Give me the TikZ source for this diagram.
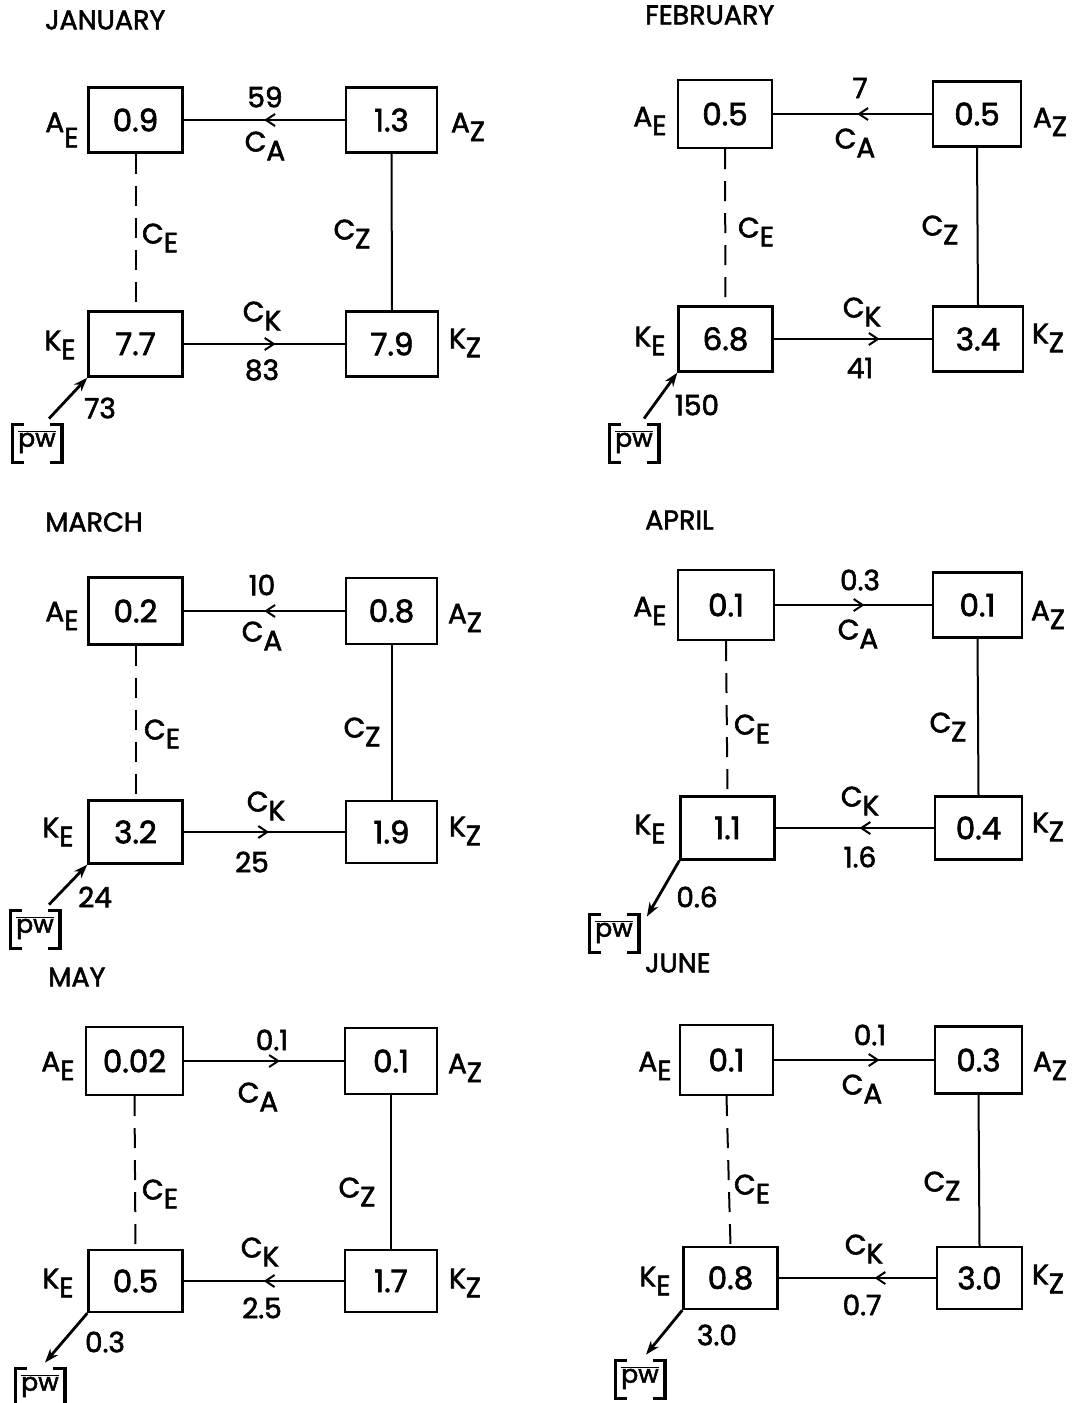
\documentclass[tikz,border=0pt]{standalone}
\usepackage{fontspec}
\setmainfont{Poppins}[FakeBold=2]
\usetikzlibrary{arrows.meta,decorations.markings,calc}
\newcommand\lbsub[2]{#1\raisebox{-0.32em}{#2}}
\newcommand\lbsubb[2]{#1\raisebox{-0.55em}{#2}}
\newcommand\pwtext{$\overline{\hbox{\fontsize{25}{27}\selectfont pw}}$}
\newcommand\pwbrackets[1]{%
  \draw[brk] ($(#1.north west)+(6,-6)$) -- ++(-12,0) |- ($(#1.south west)+(6,9)$);
  \draw[brk] ($(#1.north east)+(-6,-6)$) -- ++(12,0) |- ($(#1.south east)+(-6,9)$);}
\tikzset{
 box/.style={draw,line width=2.4pt,minimum width=94pt,minimum height=65pt,inner sep=0pt,font=\fontsize{31}{33}\selectfont},
 lbl/.style={inner sep=0pt,font=\fontsize{28}{30}\selectfont},
 ttl/.style={anchor=west,inner sep=0pt,font=\fontsize{27}{29}\selectfont},
 pwnode/.style={inner sep=0pt,font=\fontsize{25}{27}\selectfont},
 brk/.style={line width=3.2pt},
 link/.style={line width=2pt},
 dlink/.style={line width=2pt,dash pattern=on 20pt off 12pt},
 marr/.style={decoration={markings,mark=at position #1 with {\arrow{Straight Barb[length=9pt,width=12pt,line width=2pt]}}},postaction={decorate}},
 pwarr/.style={line width=2.8pt,-{Stealth[length=14pt,width=10pt]}},
}
\begin{document}
\begin{tikzpicture}[x=1pt,y=-1pt]
\useasboundingbox (0,0) rectangle (1078,1403);
% ================= JANUARY =================
\node[ttl] (t1) at (45,20) {JANUARY};
\node[box] (ae1) at (135.5,120) {0.9};
\node[box,minimum width=91pt] (az1) at (391.5,120) {1.3};
\node[box] (ke1) at (135.5,344) {7.7};
\node[box,minimum width=92pt] (kz1) at (392,344) {7.9};
\node[lbl] (lae1) at (62,130) {\lbsubb{A}{E}};
\node[lbl] (laz1) at (468,127) {\lbsub{A}{Z}};
\node[lbl] (lke1) at (60,345) {\lbsub{K}{E}};
\node[lbl] (lkz1) at (465,343) {\lbsub{K}{Z}};
\draw[link,marr=0.5] (az1.west) -- (ae1.east);
\node[lbl] (ca1v) at (265,97) {59};
\node[lbl] (ca1) at (265,146) {\lbsub{C}{A}};
\draw[dlink] (ae1.south) -- (ke1.north);
\node[lbl] (ce1) at (160,238) {\lbsub{C}{E}};
\draw[link] (az1.south) -- (kz1.north);
\node[lbl] (cz1) at (352,234) {\lbsub{C}{Z}};
\draw[link,marr=0.57] (ke1.east) -- (kz1.west);
\node[lbl] (ck1) at (262,316) {\lbsub{C}{K}};
\node[lbl] (ck1v) at (262,370) {83};
\node[pwnode] (pw1) at (37,442) {\pwtext};
\pwbrackets{pw1}
\coordinate (pw1t) at ($(pw1.north)+(12,-12)$);
\draw[pwarr] (pw1t) -- (ke1.south west);
\node[lbl] (pw1v) at (100,408) {73};
% ================= FEBRUARY =================
\node[ttl] (t2) at (645,15) {FEBRUARY};
\node[box,minimum height=68pt] (ae2) at (725,114) {0.5};
\node[box,minimum width=88pt] (az2) at (977,114) {0.5};
\node[box] (ke2) at (725.5,339) {6.8};
\node[box,minimum width=90pt] (kz2) at (978,339) {3.4};
\node[lbl] (lae2) at (650,121) {\lbsub{A}{E}};
\node[lbl] (laz2) at (1050,122) {\lbsub{A}{Z}};
\node[lbl] (lke2) at (650,341) {\lbsub{K}{E}};
\node[lbl] (lkz2) at (1048,338) {\lbsub{K}{Z}};
\draw[link,marr=0.47] (az2.west) -- (ae2.east);
\node[lbl] (ca2v) at (860,88) {7};
\node[lbl] (ca2) at (855,143) {\lbsub{C}{A}};
\draw[dlink] (ae2.south) -- (ke2.north);
\node[lbl] (ce2) at (756,232) {\lbsub{C}{E}};
\draw[link] (az2.south) -- (kz2.north);
\node[lbl] (cz2) at (940,230) {\lbsub{C}{Z}};
\draw[link,marr=0.67] (ke2.east) -- (kz2.west);
\node[lbl] (ck2) at (862,312) {\lbsub{C}{K}};
\node[lbl] (ck2v) at (860,368) {41};
\node[pwnode] (pw2) at (634,442) {\pwtext};
\pwbrackets{pw2}
\coordinate (pw2t) at ($(pw2.north)+(10,-12)$);
\draw[pwarr] (pw2t) -- (ke2.south west);
\node[lbl] (pw2v) at (697,405) {150};
% ================= MARCH =================
\node[ttl] (t3) at (45,522) {MARCH};
\node[box,minimum height=67pt] (ae3) at (135.5,611) {0.2};
\node[box,minimum width=91pt,minimum height=66pt] (az3) at (391.5,611) {0.8};
\node[box,minimum height=63pt] (ke3) at (135.5,832) {3.2};
\node[box,minimum width=91pt,minimum height=62pt] (kz3) at (391.5,832) {1.9};
\node[lbl] (lae3) at (62,616) {\lbsub{A}{E}};
\node[lbl] (laz3) at (465,618) {\lbsub{A}{Z}};
\node[lbl] (lke3) at (58,832) {\lbsub{K}{E}};
\node[lbl] (lkz3) at (465,831) {\lbsub{K}{Z}};
\draw[link,marr=0.5] (az3.west) -- (ae3.east);
\node[lbl] (ca3v) at (262,585) {10};
\node[lbl] (ca3) at (262,636) {\lbsub{C}{A}};
\draw[dlink] (ae3.south) -- (ke3.north);
\node[lbl] (ce3) at (162,734) {\lbsub{C}{E}};
\draw[link] (az3.south) -- (kz3.north);
\node[lbl] (cz3) at (362,732) {\lbsub{C}{Z}};
\draw[link,marr=0.53] (ke3.east) -- (kz3.west);
\node[lbl] (ck3) at (266,806) {\lbsub{C}{K}};
\node[lbl] (ck3v) at (252,862) {25};
\node[pwnode] (pw3) at (35,928) {\pwtext};
\pwbrackets{pw3}
\coordinate (pw3t) at ($(pw3.north)+(14,-12)$);
\draw[pwarr] (pw3t) -- (ke3.south west);
\node[lbl] (pw3v) at (95,897) {24};
% ================= APRIL =================
\node[ttl] (t4) at (645,520) {APRIL};
\node[box,minimum width=96pt,minimum height=70pt] (ae4) at (726,605) {0.1};
\node[box,minimum width=89pt] (az4) at (977.5,605) {0.1};
\node[box,minimum height=63pt] (ke4) at (727.5,828) {1.1};
\node[box,minimum width=87pt,minimum height=63pt] (kz4) at (978.5,828) {0.4};
\node[lbl] (lae4) at (650,611) {\lbsub{A}{E}};
\node[lbl] (laz4) at (1048,615) {\lbsub{A}{Z}};
\node[lbl] (lke4) at (650,829) {\lbsub{K}{E}};
\node[lbl] (lkz4) at (1048,827) {\lbsub{K}{Z}};
\draw[link,marr=0.57] (ae4.east) -- (az4.west);
\node[lbl] (ca4v) at (860,580) {0.3};
\node[lbl] (ca4) at (858,634) {\lbsub{C}{A}};
\draw[dlink] (ae4.south) -- (ke4.north);
\node[lbl] (ce4) at (752,729) {\lbsub{C}{E}};
\draw[link] (az4.south) -- (kz4.north);
\node[lbl] (cz4) at (948,727) {\lbsub{C}{Z}};
\draw[link,marr=0.47] (kz4.west) -- (ke4.east);
\node[lbl] (ck4) at (860,801) {\lbsub{C}{K}};
\node[lbl] (ck4v) at (860,857) {1.6};
\node[pwnode] (pw4) at (614,932) {\pwtext};
\pwbrackets{pw4}
\coordinate (pw4t) at ($(pw4.north east)+(14,-4)$);
\draw[pwarr] (ke4.south west) -- (pw4t);
\node[lbl] (pw4v) at (697,897) {0.6};
% ================= MAY =================
\node[ttl] (t5) at (48,977) {MAY};
\node[box,minimum width=97pt,minimum height=68pt] (ae5) at (134.5,1061) {0.02};
\node[box,minimum width=92pt,minimum height=66pt] (az5) at (391,1061) {0.1};
\node[box,minimum height=62pt] (ke5) at (135.5,1281) {0.5};
\node[box,minimum width=92pt,minimum height=62pt] (kz5) at (391,1281) {1.7};
\node[lbl] (lae5) at (58,1066) {\lbsub{A}{E}};
\node[lbl] (laz5) at (465,1068) {\lbsub{A}{Z}};
\node[lbl] (lke5) at (58,1283) {\lbsub{K}{E}};
\node[lbl] (lkz5) at (465,1283) {\lbsub{K}{Z}};
\draw[link,marr=0.6] (ae5.east) -- (az5.west);
\node[lbl] (ca5v) at (272,1040) {0.1};
\node[lbl] (ca5) at (258,1097) {\lbsub{C}{A}};
\draw[dlink] (ae5.south) -- (ke5.north);
\node[lbl] (ce5) at (160,1194) {\lbsub{C}{E}};
\draw[link] (az5.south) -- (kz5.north);
\node[lbl] (cz5) at (357,1192) {\lbsub{C}{Z}};
\draw[link,marr=0.5] (kz5.west) -- (ke5.east);
\node[lbl] (ck5) at (260,1252) {\lbsub{C}{K}};
\node[lbl] (ck5v) at (262,1308) {2.5};
\node[pwnode] (pw5) at (40,1386) {\pwtext};
\pwbrackets{pw5}
\coordinate (pw5t) at ($(pw5.north)+(5,-12)$);
\draw[pwarr] (ke5.south west) -- (pw5t);
\node[lbl] (pw5v) at (105,1342) {0.3};
% ================= JUNE =================
\node[ttl] (t6) at (645,963) {JUNE};
\node[box,minimum width=93pt,minimum height=70pt] (ae6) at (726.5,1060) {0.1};
\node[box,minimum width=87pt,minimum height=67pt] (az6) at (978.5,1060) {0.3};
\node[box,minimum height=62pt] (ke6) at (730.5,1278) {0.8};
\node[box,minimum width=85pt,minimum height=62pt] (kz6) at (979.5,1278) {3.0};
\node[lbl] (lae6) at (655,1066) {\lbsub{A}{E}};
\node[lbl] (laz6) at (1050,1066) {\lbsub{A}{Z}};
\node[lbl] (lke6) at (655,1281) {\lbsub{K}{E}};
\node[lbl] (lkz6) at (1048,1279) {\lbsub{K}{Z}};
\draw[link,marr=0.66] (ae6.east) -- (az6.west);
\node[lbl] (ca6v) at (870,1035) {0.1};
\node[lbl] (ca6) at (862,1089) {\lbsub{C}{A}};
\draw[dlink] (ae6.south) -- (ke6.north);
\node[lbl] (ce6) at (752,1189) {\lbsub{C}{E}};
\draw[link] (az6.south) -- (kz6.north);
\node[lbl] (cz6) at (942,1186) {\lbsub{C}{Z}};
\draw[link,marr=0.39] (kz6.west) -- (ke6.east);
\node[lbl] (ck6) at (864,1249) {\lbsub{C}{K}};
\node[lbl] (ck6v) at (862,1305) {0.7};
\node[pwnode] (pw6) at (640,1378) {\pwtext};
\pwbrackets{pw6}
\coordinate (pw6t) at ($(pw6.north)+(6,-12)$);
\draw[pwarr] (ke6.south west) -- (pw6t);
\node[lbl] (pw6v) at (717,1335) {3.0};
\end{tikzpicture}
\end{document}
